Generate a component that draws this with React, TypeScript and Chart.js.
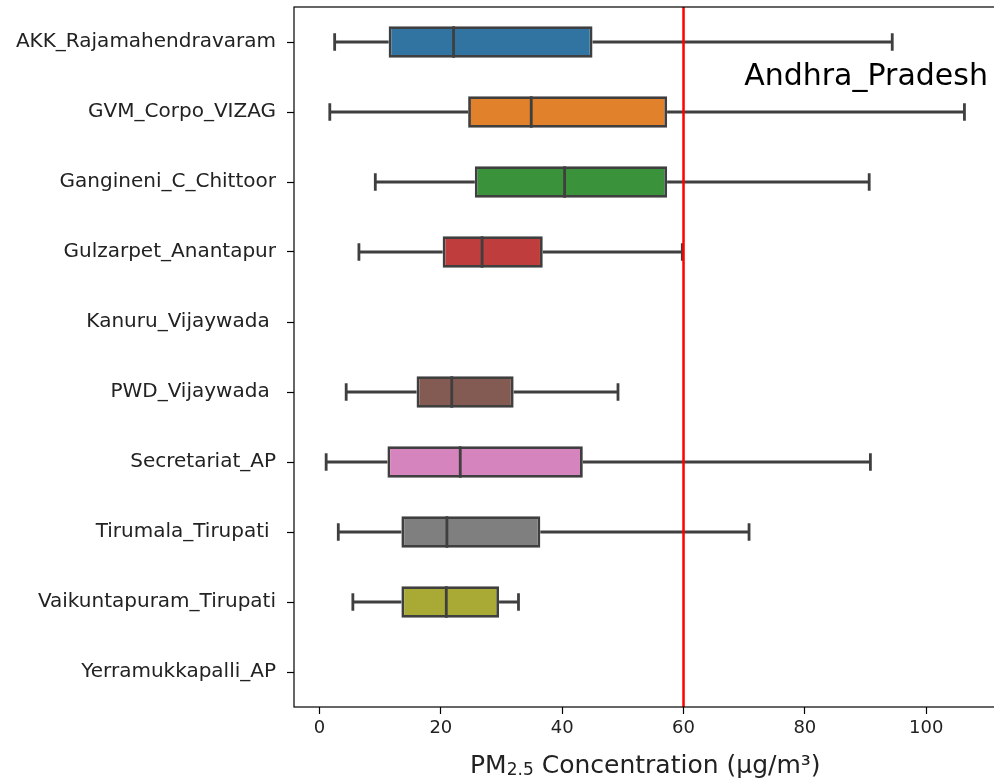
import React, { useEffect, useRef } from "react";
import { Chart, registerables } from "chart.js";

Chart.register(...registerables);

const stations = [
  "AKK_Rajamahendravaram",
  "GVM_Corpo_VIZAG",
  "Gangineni_C_Chittoor",
  "Gulzarpet_Anantapur",
  "Kanuru_Vijaywada ",
  "PWD_Vijaywada ",
  "Secretariat_AP",
  "Tirumala_Tirupati ",
  "Vaikuntapuram_Tirupati",
  "Yerramukkapalli_AP",
];

const whiskerLow = [2.5, 1.7, 9.2, 6.5, null, 4.4, 1.1, 3.1, 5.5, null];
const q1 = [11.4, 24.5, 25.6, 20.3, null, 16.0, 11.2, 13.5, 13.5, null];
const median = [22.1, 34.9, 40.4, 26.8, null, 21.8, 23.2, 21.0, 20.9, null];
const q3 = [45.0, 57.3, 57.3, 36.8, null, 32.0, 43.4, 36.4, 29.6, null];
const whiskerHigh = [94.4, 106.3, 90.6, 59.8, null, 49.2, 90.8, 70.8, 32.8, null];

const xTicks = [0, 20, 40, 60, 80, 100];
const threshold = 60;
const regionName = "Andhra_Pradesh";
const regionLabelX = 70;

const boxColors = [
  "#3274a1",
  "#e1812c",
  "#3a923a",
  "#c03d3e",
  "#9372b2",
  "#845b53",
  "#d684bd",
  "#7f7f7f",
  "#a9aa35",
  "#2ea0b9",
];

const EDGE = "#3f3f3f";
const LW = 2.8;
const FONT = "'DejaVu Sans', sans-serif";

const boxPlugin = {
  id: "boxExtras",
  beforeDatasetsDraw(chart: any) {
    const { ctx } = chart;
    const xs = chart.scales.x;
    const ys = chart.scales.y;
    const meta = chart.getDatasetMeta(0);
    ctx.save();
    ctx.strokeStyle = EDGE;
    ctx.lineWidth = LW;
    ctx.lineCap = "butt";
    for (let i = 0; i < stations.length; i++) {
      if (whiskerLow[i] == null) continue;
      const el: any = meta.data[i];
      const h = el ? el.height : 30;
      const yc = ys.getPixelForValue(i);
      const cap = h * 0.28;
      const xl = xs.getPixelForValue(whiskerLow[i]);
      const xq1 = xs.getPixelForValue(q1[i]);
      const xq3 = xs.getPixelForValue(q3[i]);
      const xh = xs.getPixelForValue(whiskerHigh[i]);
      ctx.beginPath();
      ctx.moveTo(xl, yc);
      ctx.lineTo(xq1, yc);
      ctx.moveTo(xq3, yc);
      ctx.lineTo(xh, yc);
      ctx.moveTo(xl, yc - cap);
      ctx.lineTo(xl, yc + cap);
      ctx.moveTo(xh, yc - cap);
      ctx.lineTo(xh, yc + cap);
      ctx.stroke();
    }
    ctx.restore();
  },
  afterDatasetsDraw(chart: any) {
    const { ctx, chartArea } = chart;
    const xs = chart.scales.x;
    const ys = chart.scales.y;
    const meta = chart.getDatasetMeta(0);
    ctx.save();
    ctx.strokeStyle = EDGE;
    ctx.lineWidth = LW;
    for (let i = 0; i < stations.length; i++) {
      if (median[i] == null) continue;
      const el: any = meta.data[i];
      const h = el ? el.height : 30;
      const yc = ys.getPixelForValue(i);
      const xm = xs.getPixelForValue(median[i]);
      ctx.beginPath();
      ctx.moveTo(xm, yc - h / 2);
      ctx.lineTo(xm, yc + h / 2);
      ctx.stroke();
    }
    const xt = xs.getPixelForValue(threshold);
    ctx.strokeStyle = "#ff0000";
    ctx.lineWidth = 2.5;
    ctx.beginPath();
    ctx.moveTo(xt, chartArea.top);
    ctx.lineTo(xt, chartArea.bottom);
    ctx.stroke();
    ctx.fillStyle = "#000";
    ctx.font = `30px ${FONT}`;
    ctx.textAlign = "left";
    ctx.textBaseline = "alphabetic";
    ctx.fillText(regionName, xs.getPixelForValue(regionLabelX), 85);
    ctx.restore();
  },
  afterDraw(chart: any) {
    const { ctx, chartArea } = chart;
    ctx.save();
    ctx.strokeStyle = "#000";
    ctx.lineWidth = 1.2;
    ctx.strokeRect(chartArea.left, chartArea.top, chartArea.right - chartArea.left, chartArea.bottom - chartArea.top);
    const big = `25px ${FONT}`;
    const small = `17px ${FONT}`;
    const p1 = "PM";
    const p2 = "2.5";
    const p3 = " Concentration (µg/m³)";
    ctx.font = big;
    const w1 = ctx.measureText(p1).width;
    const w3 = ctx.measureText(p3).width;
    ctx.font = small;
    const w2 = ctx.measureText(p2).width;
    const total = w1 + w2 + w3;
    const cx = (chartArea.left + chartArea.right) / 2;
    let x = cx - total / 2;
    const base = 773;
    ctx.fillStyle = "#222";
    ctx.textAlign = "left";
    ctx.textBaseline = "alphabetic";
    ctx.font = big;
    ctx.fillText(p1, x, base);
    x += w1;
    ctx.font = small;
    ctx.fillText(p2, x, base + 2);
    x += w2;
    ctx.font = big;
    ctx.fillText(p3, x, base);
    ctx.restore();
  },
};

export default function App() {
  const ref = useRef<HTMLCanvasElement | null>(null);
  useEffect(() => {
    if (!ref.current) return;
    const chart = new Chart(ref.current, {
      type: "bar",
      data: {
        labels: stations,
        datasets: [
          {
            data: q1.map((v, i) => (v == null || q3[i] == null ? null : [v, q3[i] as number])) as any,
            backgroundColor: boxColors,
            borderColor: EDGE,
            borderWidth: LW,
            borderSkipped: false,
            barPercentage: 0.45,
            categoryPercentage: 1,
            inflateAmount: 0,
          } as any,
        ],
      },
      options: {
        indexAxis: "y",
        responsive: false,
        animation: false,
        devicePixelRatio: 1,
        layout: { padding: { top: 7, right: 3.4, left: 0, bottom: 0 } },
        plugins: {
          legend: { display: false },
          tooltip: { enabled: false },
          title: { display: false },
        },
        scales: {
          x: {
            type: "linear",
            min: -4.2,
            max: 111.6,
            afterBuildTicks: (scale: any) => {
              scale.ticks = xTicks.map((v) => ({ value: v }));
            },
            afterFit: (scale: any) => {
              scale.height = 72;
              scale.paddingLeft = 0;
              scale.paddingRight = 0;
            },
            grid: {
              drawOnChartArea: false,
              drawTicks: true,
              tickLength: 7,
              tickWidth: 1.2,
              color: "#000",
            },
            border: { display: false },
            ticks: {
              color: "#222",
              font: { family: FONT, size: 18 },
              padding: 4,
              maxRotation: 0,
              autoSkip: false,
            },
          },
          y: {
            type: "category",
            offset: true,
            afterFit: (scale: any) => {
              scale.width = 294;
              scale.paddingTop = 0;
              scale.paddingBottom = 0;
            },
            grid: {
              offset: false,
              drawOnChartArea: false,
              drawTicks: true,
              tickLength: 7,
              tickWidth: 1.2,
              color: "#000",
            },
            border: { display: false },
            ticks: {
              color: "#222",
              font: { family: FONT, size: 20 },
              padding: 11,
              autoSkip: false,
            },
          },
        },
      },
      plugins: [boxPlugin],
    });
    return () => chart.destroy();
  }, []);

  return (
    <div
      style={{
        position: "fixed",
        left: 0,
        top: 0,
        width: 994,
        height: 779,
        overflow: "hidden",
        background: "#fff",
      }}
    >
      <canvas ref={ref} width={1000} height={779} style={{ display: "block" }} />
    </div>
  );
}
